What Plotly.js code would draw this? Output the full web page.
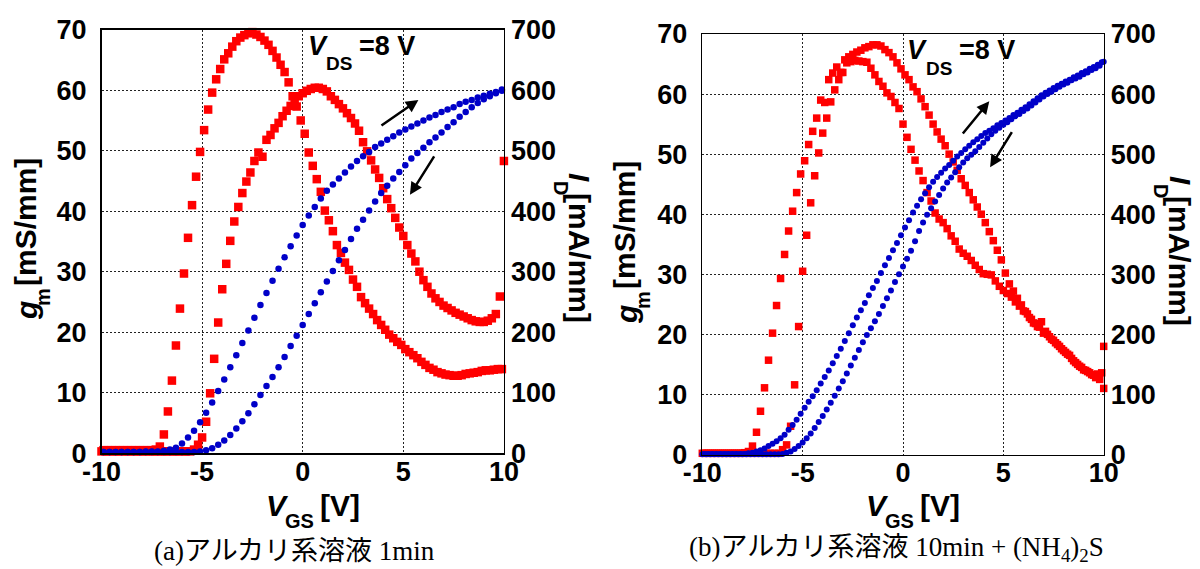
<!DOCTYPE html>
<html><head><meta charset="utf-8">
<script src="https://cdn.plot.ly/plotly-3.0.1.min.js"></script>
<style>html,body{margin:0;padding:0;background:#fff}#chart{width:1200px;height:569px}</style>
</head><body><div id="chart"></div>
<script>
// ---------- sweep voltages (V_GS, V) ----------
const vgsOdd = [-9.9,-9.7,-9.5,-9.3,-9.1,-8.9,-8.7,-8.5,-8.3,-8.1,
  -7.9,-7.7,-7.5,-7.3,-7.1,-6.9,-6.7,-6.5,-6.3,-6.1,
  -5.9,-5.7,-5.5,-5.3,-5.1,-4.9,-4.7,-4.5,-4.3,-4.1,
  -3.9,-3.7,-3.5,-3.3,-3.1,-2.9,-2.7,-2.5,-2.3,-2.1,
  -1.9,-1.7,-1.5,-1.3,-1.1,-0.9,-0.7,-0.5,-0.3,-0.1,
  0.1,0.3,0.5,0.7,0.9,1.1,1.3,1.5,1.7,1.9,
  2.1,2.3,2.5,2.7,2.9,3.1,3.3,3.5,3.7,3.9,
  4.1,4.3,4.5,4.7,4.9,5.1,5.3,5.5,5.7,5.9,
  6.1,6.3,6.5,6.7,6.9,7.1,7.3,7.5,7.7,7.9,
  8.1,8.3,8.5,8.7,8.9,9.1,9.3,9.5,9.7,9.9];
const vgsEven = [-10,-9.8,-9.6,-9.4,-9.2,-9,-8.8,-8.6,-8.4,-8.2,
  -8,-7.8,-7.6,-7.4,-7.2,-7,-6.8,-6.6,-6.4,-6.2,
  -6,-5.8,-5.6,-5.4,-5.2,-5,-4.8,-4.6,-4.4,-4.2,
  -4,-3.8,-3.6,-3.4,-3.2,-3,-2.8,-2.6,-2.4,-2.2,
  -2,-1.8,-1.6,-1.4,-1.2,-1,-0.8,-0.6,-0.4,-0.2,
  0,0.2,0.4,0.6,0.8,1,1.2,1.4,1.6,1.8,
  2,2.2,2.4,2.6,2.8,3,3.2,3.4,3.6,3.8,
  4,4.2,4.4,4.6,4.8,5,5.2,5.4,5.6,5.8,
  6,6.2,6.4,6.6,6.8,7,7.2,7.4,7.6,7.8,
  8,8.2,8.4,8.6,8.8,9,9.2,9.4,9.6,9.8,
  10];
const vgsStep03 = [-9.9,-9.6,-9.3,-9,-8.7,-8.4,-8.1,-7.8,-7.5,-7.2,
  -6.9,-6.6,-6.3,-6,-5.7,-5.4,-5.1,-4.8,-4.5,-4.2,
  -3.9,-3.6,-3.3,-3,-2.7,-2.4,-2.1,-1.8,-1.5,-1.2,
  -0.9,-0.6,-0.3,0,0.3,0.6,0.9,1.2,1.5,1.8,
  2.1,2.4,2.7,3,3.3,3.6,3.9,4.2,4.5,4.8,
  5.1,5.4,5.7,6,6.3,6.6,6.9,7.2,7.5,7.8,
  8.1,8.4,8.7,9,9.3,9.6,9.9];
const vgsOddEnd = vgsOdd.concat([10]);

// ---------- (a) alkaline 1 min ----------
const gmA_sweep1 = [0.5,0.5,0.5,0.5,0.5,0.5,0.5,0.5,0.5,0.5,
  0.5,0.5,0.5,0.6,1.1,3.1,6.9,12.0,17.8,23.9,
  29.7,35.6,41.0,45.7,49.8,53.4,56.8,59.6,61.8,63.5,
  65.1,66.1,67.2,68.1,68.7,69.1,69.4,69.6,69.2,68.8,
  68.2,67.5,66.5,65.4,64.2,63.0,61.3,59.0,57.3,55.0,
  52.8,49.7,47.5,45.3,43.2,40.1,38.5,36.7,34.4,33.1,
  31.5,30.3,28.7,27.5,25.8,24.8,23.9,23.0,22.0,21.2,
  20.4,19.6,19.0,18.4,17.9,17.2,16.7,16.2,15.7,15.1,
  14.6,14.1,13.8,13.4,13.2,13.0,12.9,12.8,12.8,12.9,
  13.1,13.2,13.3,13.4,13.6,13.7,13.7,13.8,13.9,13.9];
const gmA_sweep2 = [0.3,0.3,0.3,0.3,0.3,0.3,0.3,0.3,0.3,0.3,
  0.3,0.3,0.3,0.3,0.3,0.3,0.3,0.3,0.3,0.3,
  0.3,0.3,0.3,0.6,1.4,2.6,5.2,9.9,15.6,21.6,
  27.1,31.3,35.1,38.3,40.7,43.0,44.9,46.4,48.3,49.7,
  49.0,51.8,52.6,53.7,54.6,55.7,56.6,57.4,58.2,59.0,
  59.5,59.9,60.2,60.4,60.4,60.2,59.8,59.0,58.4,57.7,
  57.0,56.2,55.4,54.5,53.3,51.4,49.9,48.4,46.9,45.5,
  43.8,42.0,40.5,38.9,37.3,35.9,34.4,33.0,31.7,30.0,
  28.6,27.5,26.4,25.6,25.0,24.4,24.0,23.6,23.2,22.9,
  22.6,22.3,22.0,21.8,21.7,21.7,21.9,22.3,23.0,25.9,
  48.3];
const idA_sweep1 = [2,2,2,2,2,2,2,3,3,3,
  4,6,9,16,26,37,51,67,84,103,
  122,142,162,182,203,224,245,265,285,305,
  324,342,360,377,393,407,421,434,444,454,
  464,474,483,491,498,506,512,518,524,530,
  535,540,545,550,555,559,564,568,572,577,
  581,584,588,591,594,597,601];
const idA_sweep2 = [2,2,2,2,2,2,2,2,2,2,
  2,2,2,2,2,2,3,5,8,14,
  21,30,41,53,66,81,96,111,126,142,
  159,177,194,212,230,248,266,284,301,319,
  336,354,371,386,401,416,430,442,454,465,
  476,487,496,505,514,522,530,539,547,556,
  564,572,579,585,590,595,599];

// ---------- (b) alkaline 10 min + (NH4)2S ----------
const gmB_sweep1 = [0.2,0.2,0.2,0.2,0.2,0.2,0.2,0.2,0.2,0.2,
  0.3,0.5,1.4,3.7,7.2,11.1,15.7,20.2,24.8,29.3,
  33.3,37.2,40.5,43.6,46.7,48.9,51.6,53.8,56.0,59.0,
  58.6,62.4,63.5,64.5,63.6,65.7,66.2,66.6,67.0,67.3,
  67.7,67.9,68.2,68.2,68.0,67.4,66.9,66.2,65.2,64.2,
  63.2,62.4,61.2,60.4,59.2,57.9,56.5,55.0,53.7,52.5,
  51.4,50.0,48.7,47.3,45.9,44.8,43.6,42.4,41.2,40.0,
  38.6,37.1,35.6,34.0,32.4,30.2,28.4,27.2,26.0,24.9,
  23.8,22.8,21.9,21.3,22.1,20.5,19.6,19.0,18.3,17.6,
  17.0,16.5,15.6,15.0,14.5,14.0,13.6,13.2,13.4,13.6,
  18.0];
const gmB_sweep2 = [0.2,0.2,0.2,0.2,0.2,0.2,0.2,0.2,0.2,0.2,
  0.2,0.2,0.2,0.2,0.2,0.2,0.2,0.2,0.2,0.2,
  0.8,1.6,4.7,11.6,21.3,30.5,36.5,41.9,46.4,50.2,
  53.5,56.0,58.7,60.7,62.4,63.6,65.2,65.4,65.6,65.5,
  65.4,65.3,64.3,63.2,62.1,61.3,60.2,59.6,58.6,57.6,
  55.0,52.8,50.8,49.0,47.2,45.6,43.6,42.2,40.2,39.2,
  38.6,37.6,36.4,35.5,34.2,33.5,33.0,32.3,31.5,30.8,
  30.1,30.0,29.9,28.9,28.0,27.3,26.8,26.2,25.4,24.7,
  23.9,23.4,22.5,21.8,21.2,20.2,20.0,19.2,18.6,18.0,
  17.3,16.7,16.0,15.3,14.7,14.1,13.8,13.3,12.8,12.5,
  11.0];
const idB_sweep1 = [1,1,1,1,1,1,1,1,1,1,
  1,2,3,5,7,10,14,18,22,27,
  33,41,49,58,68,78,88,97,107,118,
  129,140,152,164,176,189,202,215,228,240,
  252,265,277,289,302,315,327,340,352,365,
  378,390,403,414,425,435,445,454,462,469,
  476,482,489,496,502,508,514,520,525,530,
  535,539,543,548,552,556,560,565,569,574,
  578,583,588,593,598,602,606,610,614,617,
  621,624,628,631,635,638,642,645,649,653];
const idB_sweep2 = [0.5,0.5,0.5,0.5,0.5,0.5,0.5,0.5,0.5,0.5,
  0.5,0.5,0.5,0.5,0.5,0.5,0.5,0.5,0.5,0.5,
  1,3,5,9,14,20,27,35,44,54,
  64,75,86,98,110,122,135,148,161,174,
  187,199,210,222,234,247,260,273,287,300,
  313,326,339,355,372,386,399,410,421,432,
  443,453,461,470,478,486,493,499,505,512,
  519,526,533,539,544,549,553,558,563,567,
  572,576,581,586,591,596,600,604,608,612,
  616,619,623,626,629,633,636,640,643,647,
  654];

// ---------- ticks ----------
const xTickVals = [-10,-5,0,5,10];
const xTickText = ['-10','-5','0','5','10'];
const gmTickVals = [0,10,20,30,40,50,60,70];
const idTickVals = [0,100,200,300,400,500,600,700];

// ---------- styling ----------
const RED = '#ff0000', BLUE = '#0000c8';
const SANS = 'Liberation Sans, Arial, sans-serif';
const tickFont = {family: SANS, size: 27, color: '#000', weight: 'bold'};
const mainFont = {family: SANS, size: 30, color: '#000', weight: 'bold'};
const subFont = {family: SANS, size: 20, color: '#000', weight: 'bold'};
const vdsFont = {family: SANS, size: 27, color: '#000', weight: 'bold'};
const vdsSub = {family: SANS, size: 19, color: '#000', weight: 'bold'};
const capFont = {family: '"Liberation Serif", "Noto Sans CJK JP", serif', size: 27, color: '#000'};

function red(x, y, xa, ya, s) {
  return {x, y, xaxis: xa, yaxis: ya, type: 'scatter', mode: 'markers', cliponaxis: false,
    marker: {symbol: 'square', size: s, color: RED, line: {width: 0}}, hoverinfo: 'skip'};
}
function blue(x, y, xa, ya, s) {
  return {x, y, xaxis: xa, yaxis: ya, type: 'scatter', mode: 'markers', cliponaxis: false,
    marker: {symbol: 'circle', size: s, color: BLUE, line: {width: 0}}, hoverinfo: 'skip'};
}
const data = [
  red(vgsOdd, gmA_sweep1, 'x', 'y', 8.5),
  red(vgsEven, gmA_sweep2, 'x', 'y', 8.5),
  blue(vgsStep03, idA_sweep1, 'x', 'y2', 6.5),
  blue(vgsStep03, idA_sweep2, 'x', 'y2', 6.5),
  red(vgsOddEnd, gmB_sweep1, 'x2', 'y3', 7.5),
  red(vgsEven, gmB_sweep2, 'x2', 'y3', 7.5),
  blue(vgsOdd, idB_sweep1, 'x2', 'y4', 6),
  blue(vgsEven, idB_sweep2, 'x2', 'y4', 6)
];

const W = 1200, H = 569;
function xAx(d0, d1, anchor) {
  return {domain: [d0 / W, d1 / W], anchor, range: [-10, 10], tickvals: xTickVals, ticktext: xTickText,
    showline: true, mirror: true, linecolor: '#000', linewidth: 1.5,
    showgrid: true, gridcolor: '#222', griddash: '2px,2px', gridwidth: 1, zeroline: false,
    ticks: '', tickfont: tickFont, ticklabelstandoff: -6, fixedrange: true};
}
function yAxL(top, bot, anchor) {
  return {domain: [1 - bot / H, 1 - top / H], anchor, range: [0, 70], tickvals: gmTickVals,
    showline: true, mirror: true, linecolor: '#000', linewidth: 1.5,
    showgrid: true, gridcolor: '#222', griddash: '2px,2px', gridwidth: 1, zeroline: false,
    ticks: '', tickfont: tickFont, ticklabelstandoff: 8, fixedrange: true};
}
function yAxR(top, bot, anchor, over) {
  return {domain: [1 - bot / H, 1 - top / H], anchor, overlaying: over, side: 'right', range: [0, 700],
    tickvals: idTickVals, showline: false, showgrid: false, zeroline: false,
    ticks: '', tickfont: tickFont, ticklabelstandoff: 6, fixedrange: true};
}

function txt(text, x, y, font, angle) {
  return {xref: 'paper', yref: 'paper', x: x / W, y: 1 - y / H, text, font, showarrow: false,
    xanchor: 'center', yanchor: 'middle', textangle: angle || 0};
}
function arrow(xr, yr, tx, ty, hx, hy) {
  return {xref: xr, yref: yr, axref: xr, ayref: yr, x: hx, y: hy, ax: tx, ay: ty, text: '',
    showarrow: true, arrowhead: 2, arrowsize: 1, arrowwidth: 2.5, arrowcolor: '#000'};
}

const ann = [];
[0, 600].forEach((dx, i) => {
  const dy = i === 0 ? 0 : 3;
  // x title
  ann.push(txt('<i>V</i>', 277 + dx, 505, mainFont));
  ann.push(txt('GS', 299 + dx, 521, subFont));
  ann.push(txt('[V]', 340 + dx, 505, mainFont));
  // left title
  ann.push(txt('<i>g</i>', 26 + dx, 311 + dy, mainFont, -90));
  ann.push(txt('m', 43 + dx, 297 + dy, subFont, -90));
  ann.push(txt('[mS/mm]', 25 + dx, 222 + dy, mainFont, -90));
  // right title
  ann.push(txt('<i>I</i>', 580 + dx, 177 + dy, mainFont, 90));
  ann.push(txt('D', 561 + dx, 188 + dy, subFont, 90));
  ann.push(txt('[mA/mm]', 580 + dx, 258 + dy, mainFont, 90));
  // V_DS label
  ann.push(txt('<i>V</i>', 317.5 + dx, 46 + dy * 1.5, vdsFont));
  ann.push(txt('DS', 339 + dx, 63.5 + dy * 1.5, vdsSub));
  ann.push(txt('=8 V', 387 + dx, 46 + dy * 1.5, vdsFont));
});
ann.push(arrow('x', 'y', 3.84, 54.0, 5.75, 58.4));
ann.push(arrow('x', 'y', 6.58, 49.3, 5.33, 42.7));
ann.push(arrow('x2', 'y3', 2.92, 53.2, 4.30, 58.8));
ann.push(arrow('x2', 'y3', 5.47, 53.9, 4.34, 47.8));
ann.push(txt('(a)アルカリ系溶液 1min', 294, 551, capFont));
ann.push(txt('(b)アルカリ系溶液 10min + (NH<sub>4</sub>)<sub>2</sub>S', 896, 549, capFont));

const layout = {
  width: W, height: H, margin: {l: 0, r: 0, t: 0, b: 0},
  paper_bgcolor: '#fff', plot_bgcolor: '#fff', showlegend: false,
  xaxis: xAx(101.5, 503.9, 'y'),
  yaxis: yAxL(29.7, 453.2, 'x'),
  yaxis2: yAxR(29.7, 453.2, 'x', 'y'),
  xaxis2: xAx(702.3, 1103.7, 'y3'),
  yaxis3: yAxL(34, 454.5, 'x2'),
  yaxis4: yAxR(34, 454.5, 'x2', 'y3'),
  annotations: ann
};
Plotly.newPlot('chart', data, layout, {staticPlot: true, displayModeBar: false});
</script></body></html>
